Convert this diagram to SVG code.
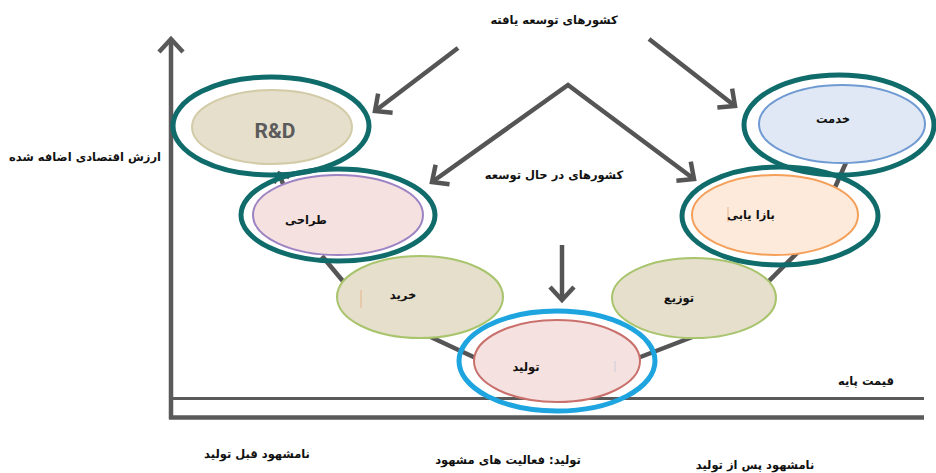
<svg xmlns="http://www.w3.org/2000/svg" width="936" height="473" viewBox="0 0 936 473">
<style>
.ax{stroke:#5a5a5a;fill:none}
.con{stroke:#555;stroke-width:4.5;fill:none}
.ring{fill:none;stroke:#106b6b;stroke-width:5}
.ringb{fill:none;stroke:#1ea4df;stroke-width:5}
.t{font-family:"DejaVu Sans",sans-serif;font-weight:bold;font-size:11.5px;fill:#111;text-anchor:middle}
</style>
<defs>
<marker id="ah" viewBox="-20 -20 40 40" refX="0" refY="0" markerWidth="40" markerHeight="40" markerUnits="userSpaceOnUse" orient="auto-start-reverse">
<path d="M-13,-12 L0,0 L-13,12" fill="none" stroke="#555" stroke-width="4.5"/>
</marker>
<marker id="ahs" viewBox="-20 -20 40 40" refX="0" refY="0" markerWidth="40" markerHeight="40" markerUnits="userSpaceOnUse" orient="auto">
<path d="M-8,-8 L0,0 L-8,8" fill="none" stroke="#555" stroke-width="3.5"/>
</marker>
</defs>
<rect width="936" height="473" fill="#fff"/>
<g id="axes">
<line class="ax" x1="171" y1="40" x2="171" y2="419" stroke-width="4.5"/>
<path class="ax" d="M159,52 L171,39 L183,52" stroke-width="4.5"/>
<line class="ax" x1="169" y1="417.5" x2="924" y2="417.5" stroke-width="4.5"/>
<line class="ax" x1="171" y1="398.5" x2="924" y2="398.5" stroke-width="3"/>
</g>
<g id="connectors">
<line class="con" x1="322" y1="256" x2="352" y2="292"/>
<line class="con" x1="420" y1="332" x2="480" y2="360"/>
<line class="con" x1="630" y1="361" x2="695" y2="336"/>
<line class="con" x1="762" y1="288" x2="803" y2="247"/>
<line class="con" x1="833" y1="192" x2="848" y2="158"/>
<line class="con" x1="287" y1="195" x2="279" y2="173" marker-end="url(#ahs)"/>
<line class="con" x1="458" y1="48" x2="375" y2="111" marker-end="url(#ah)"/>
<line class="con" x1="649" y1="39" x2="735" y2="106" marker-end="url(#ah)"/>
<polyline class="con" points="432,182 568,85 694,179" marker-start="url(#ah)" marker-end="url(#ah)"/>
<line class="con" x1="562" y1="245" x2="562" y2="300" marker-end="url(#ah)"/>
</g>
<g id="rd">
<ellipse class="ring" cx="271" cy="126" rx="98" ry="49"/>
<ellipse cx="272" cy="127" rx="80" ry="37" fill="#e5dfcc" stroke="#d3cba8" stroke-width="2"/>
<text x="275" y="138" font-family="Roboto,'DejaVu Sans',sans-serif" font-weight="bold" font-size="21" fill="#5b5b5b" text-anchor="middle">R&amp;D</text>
</g>
<g id="design">
<ellipse class="ring" cx="338" cy="215" rx="97" ry="46"/>
<ellipse cx="338" cy="215" rx="85" ry="40" fill="#f5e2e0" stroke="#9d83c4" stroke-width="2"/>
<text class="t" x="306" y="224">طراحی</text>
</g>
<g id="purchase">
<ellipse cx="420" cy="297" rx="83" ry="41" fill="#e5dfcc" stroke="#a8c46c" stroke-width="2"/>
<line x1="361" y1="290" x2="361" y2="308" stroke="#e8b48c" stroke-width="1"/>
<text class="t" x="403" y="299">خرید</text>
</g>
<g id="production">
<ellipse class="ringb" cx="557" cy="361" rx="98" ry="50"/>
<ellipse cx="557" cy="361" rx="83" ry="41" fill="#f5e2e0" stroke="#c9706c" stroke-width="2"/>
<line x1="615" y1="361" x2="615" y2="372" stroke="#c8ccd8" stroke-width="1"/>
<text class="t" x="526" y="371">تولید</text>
</g>
<g id="distribution">
<ellipse cx="694" cy="298" rx="82" ry="40" fill="#e5dfcc" stroke="#a8c46c" stroke-width="2"/>
<text class="t" x="679" y="302">توزیع</text>
</g>
<g id="marketing">
<ellipse class="ring" cx="780" cy="216" rx="98" ry="49"/>
<ellipse cx="775" cy="215" rx="83" ry="40" fill="#fdeadb" stroke="#f5a05a" stroke-width="2"/>
<line x1="728" y1="207" x2="728" y2="222" stroke="#e8b48c" stroke-width="1"/>
<text class="t" x="751" y="219">بازا یابی</text>
</g>
<g id="service">
<ellipse class="ring" cx="839" cy="125" rx="95" ry="50"/>
<ellipse cx="842" cy="124" rx="83" ry="39" fill="#dfe8f4" stroke="#6f9ad2" stroke-width="2"/>
<text class="t" x="833" y="123">خدمت</text>
</g>
<g id="labels">
<text class="t" x="554" y="24">کشورهای توسعه یافته</text>
<text class="t" x="554" y="179">کشورهای در حال توسعه</text>
<text class="t" x="85" y="161">ارزش اقتصادی اضافه شده</text>
<text class="t" x="866" y="385">قیمت پایه</text>
<text class="t" x="257" y="458">نامشهود قبل تولید</text>
<text class="t" x="508" y="464">تولید: فعالیت های مشهود</text>
<text class="t" x="755" y="469">نامشهود پس از تولید</text>
</g>
</svg>
